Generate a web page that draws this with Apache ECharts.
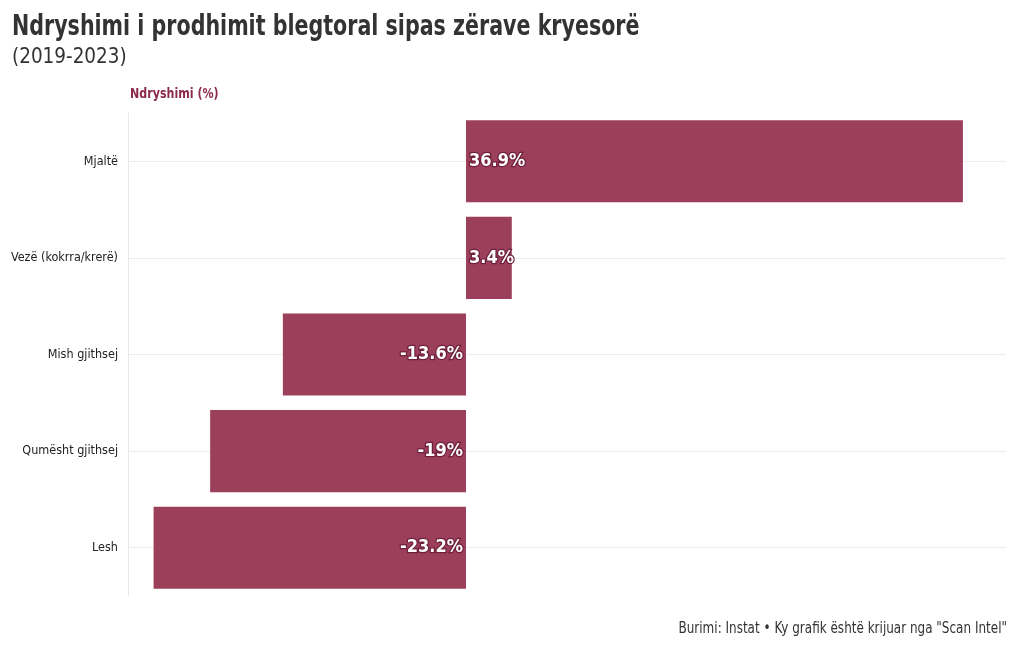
<!DOCTYPE html>
<html><head><meta charset="utf-8">
<script src="https://cdn.jsdelivr.net/npm/echarts@6/dist/echarts.min.js"></script>
<style>html,body{margin:0;padding:0;background:#fff}#c{width:1020px;height:650px}</style>
</head><body><div id="c"></div>
<script>
const categories = ["Mjaltë", "Vezë (kokrra/krerë)", "Mish gjithsej", "Qumësht gjithsej", "Lesh"];
const values = [36.9, 3.4, -13.6, -19, -23.2];
const labels = ["36.9%", "3.4%", "-13.6%", "-19%", "-23.2%"];

const FONT = '"Liberation Sans Narrow","DejaVu Sans Condensed","Roboto",sans-serif';
const BAR = '#9c3f5b';
const chart = echarts.init(document.getElementById('c'));
chart.setOption({
  animation: false,
  graphic: [
    {type: 'text', x: 12, y: 13, scaleX: 0.79, silent: true,
     style: {text: 'Ndryshimi i prodhimit blegtoral sipas zërave kryesorë', x: 0, y: 0,
       font: 'bold 29px ' + FONT, fill: '#333', verticalAlign: 'top'}},
    {type: 'text', x: 12, y: 46, scaleX: 0.93, silent: true,
     style: {text: '(2019-2023)', x: 0, y: 0,
       font: 'normal 22px ' + FONT, fill: '#333', verticalAlign: 'top'}},
    {type: 'text', x: 130, y: 87, scaleX: 0.88, silent: true,
     style: {text: 'Ndryshimi (%)', x: 0, y: 0,
       font: 'bold 14px ' + FONT, fill: '#8c2a4c', verticalAlign: 'top'}},
    {type: 'text', x: 1007, y: 622, scaleX: 0.89, silent: true,
     style: {text: 'Burimi: Instat • Ky grafik është krijuar nga "Scan Intel"', x: 0, y: 0,
       font: 'normal 15px ' + FONT, fill: '#333', align: 'right', verticalAlign: 'top'}}
  ],
  grid: {left: 128, right: 14, top: 113, bottom: 54, containLabel: false},
  xAxis: {
    type: 'value', min: -25.1, max: 40.1,
    axisLabel: {show: false}, axisTick: {show: false}, axisLine: {show: false},
    splitLine: {show: false}
  },
  yAxis: {
    type: 'category', data: categories, inverse: true,
    axisLine: {show: true, onZero: false, lineStyle: {color: '#e8e8e8'}},
    axisTick: {show: false},
    axisLabel: {fontFamily: FONT, fontSize: 12.5, color: '#222', margin: 10},
    splitLine: {show: false}
  },
  series: [{
    type: 'bar', barCategoryGap: '15%', z: 3,
    data: values.map((v, i) => ({
      value: v,
      label: {
        show: true,
        position: v >= 0 ? 'insideLeft' : 'insideRight',
        distance: 3,
        formatter: labels[i],
        fontFamily: FONT, fontSize: 18, fontWeight: 'bold', color: '#fff',
        textBorderColor: '#6e1f3a', textBorderWidth: 2.5
      }
    })),
    itemStyle: {color: BAR}
  }, {
    type: 'line', data: [], z: 1, silent: true,
    markLine: {
      silent: true, symbol: 'none', z: 1, label: {show: false},
      lineStyle: {color: '#ececec', type: 'solid', width: 1},
      data: categories.map(c => ({yAxis: c}))
    }
  }]
});
</script></body></html>
